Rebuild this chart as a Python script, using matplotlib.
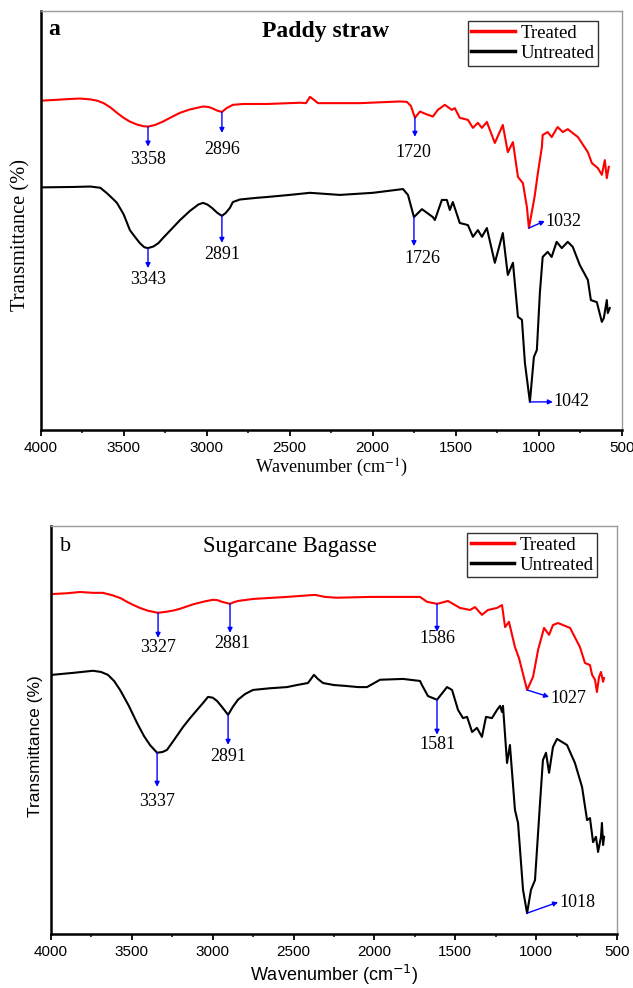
import numpy as np
import matplotlib
matplotlib.use('Agg')
import matplotlib.pyplot as plt
from matplotlib.ticker import MultipleLocator

plt.rcParams['font.family'] = ['Liberation Sans', 'DejaVu Sans']

# ---- panel a : paddy straw ----
wn_a_tr = [3992, 3900, 3823, 3763, 3700, 3660, 3620, 3580, 3540, 3500, 3462, 3420, 3380,
           3353, 3310, 3263, 3210, 3160, 3100, 3022, 2990, 2968, 2935, 2908, 2880, 2842,
           2780, 2637, 2438, 2402, 2378, 2354, 2330, 2077, 1836, 1794, 1770, 1746, 1716,
           1680, 1638, 1608, 1566, 1524, 1506, 1476, 1427, 1397, 1367, 1343, 1313, 1265,
           1217, 1187, 1156, 1126, 1096, 1072, 1060, 1026, 1006, 982, 977, 947, 923, 887,
           856, 826, 765, 705, 681, 645, 621, 603, 591, 579]
t_a_tr = [78.6, 78.8, 79.0, 79.1, 78.9, 78.6, 78.0, 77.0, 75.7, 74.5, 73.6, 72.9, 72.5,
          72.4, 72.8, 73.6, 74.7, 75.7, 76.5, 77.2, 77.1, 76.8, 76.2, 75.9, 76.8, 77.6,
          77.8, 77.8, 78.1, 78.0, 79.5, 78.8, 78.0, 78.0, 78.4, 78.3, 77.3, 74.5, 76.0,
          75.4, 74.8, 76.4, 77.6, 76.4, 76.8, 74.5, 74.0, 72.1, 73.3, 72.1, 73.5, 68.5,
          72.8, 66.3, 68.7, 60.4, 58.9, 53.2, 48.2, 55.6, 61.3, 67.5, 70.4, 71.1, 69.9, 72.3,
          71.1, 71.8, 69.9, 66.3, 63.7, 62.5, 60.9, 64.4, 60.1, 62.8]

wn_a_un = [3992, 3800, 3700, 3640, 3600, 3560, 3540, 3500, 3462, 3430, 3402, 3375, 3353,
           3320, 3290, 3263, 3210, 3160, 3100, 3050, 3022, 2995, 2968, 2935, 2908, 2885,
           2860, 2842, 2800, 2700, 2637, 2500, 2378, 2198, 1999, 1818, 1788, 1752, 1704,
           1638, 1626, 1584, 1554, 1536, 1518, 1476, 1427, 1397, 1367, 1343, 1313, 1265,
           1217, 1187, 1156, 1126, 1102, 1084, 1054, 1030, 1012, 994, 977, 947, 923, 893,
           862, 826, 796, 754, 705, 687, 651, 621, 609, 591, 585, 573]
t_a_un = [57.9, 58.0, 58.1, 57.8, 56.5, 55.0, 54.2, 51.5, 47.7, 46.0, 44.6, 43.6, 43.4,
          43.8, 44.6, 45.8, 48.0, 50.1, 52.3, 53.8, 54.2, 53.8, 53.0, 51.8, 51.1, 51.8,
          53.0, 54.4, 55.0, 55.4, 55.6, 56.1, 56.6, 56.1, 56.6, 57.5, 56.1, 50.8, 52.7,
          50.8, 50.1, 54.9, 54.9, 52.5, 54.4, 49.4, 48.9, 46.1, 47.7, 46.1, 48.2, 39.9,
          47.0, 37.0, 39.9, 27.0, 26.3, 16.0, 6.7, 17.4, 19.1, 32.7, 41.3, 42.5, 41.3, 44.9,
          43.4, 44.9, 43.7, 39.4, 35.8, 31.0, 30.5, 25.8, 26.7, 31.0, 27.9, 29.1]

lab_a_tr = ['3358', '2896', '1720', '1032']
pos_a_tr = [3353, 2908, 1746, 1060]
lab_a_un = ['3343', '2891', '1726', '1042']
pos_a_un = [3353, 2908, 1752, 1054]

# ---- panel b : sugarcane bagasse ----
wn_b_tr = [3994, 3900, 3821, 3740, 3680, 3620, 3570, 3530, 3490, 3450, 3400, 3338, 3280,
           3240, 3202, 3120, 3050, 2998, 2970, 2943, 2893, 2870, 2844, 2751, 2541, 2367,
           2306, 2231, 2027, 1718, 1675, 1613, 1545, 1471, 1409, 1378, 1335, 1298, 1242,
           1211, 1192, 1168, 1131, 1106, 1056, 1019, 988, 951, 933, 920, 896, 865, 790,
           729, 698, 667, 654, 636, 624, 611, 599, 586, 580]
t_b_tr = [83.3, 83.5, 83.8, 83.6, 83.6, 83.0, 82.3, 81.4, 80.6, 79.9, 79.2, 78.7, 79.0,
          79.3, 79.7, 80.8, 81.5, 81.9, 81.8, 81.4, 80.9, 81.3, 81.6, 82.1, 82.6, 83.1,
          82.6, 82.4, 82.6, 82.6, 81.4, 80.9, 81.6, 79.9, 79.4, 80.1, 78.2, 79.4, 79.9,
          80.6, 75.2, 76.5, 70.3, 67.6, 59.8, 63.0, 69.6, 75.0, 74.0, 73.3, 75.7, 76.2, 75.0,
          70.3, 66.4, 65.9, 63.5, 62.3, 59.3, 63.0, 64.2, 61.8, 62.7]

wn_b_un = [3994, 3860, 3740, 3690, 3648, 3610, 3573, 3520, 3468, 3425, 3388, 3344, 3310,
           3283, 3240, 3184, 3140, 3097, 3060, 3029, 3000, 2973, 2940, 2905, 2875, 2844,
           2800, 2751, 2650, 2541, 2480, 2411, 2374, 2350, 2318, 2250, 2182, 2100, 2046,
           1965, 1823, 1718, 1706, 1669, 1613, 1551, 1520, 1483, 1452, 1427, 1396, 1366,
           1335, 1310, 1273, 1242, 1223, 1211, 1205, 1180, 1162, 1131, 1112, 1081, 1056,
           1032, 1007, 976, 958, 939, 920, 896, 871, 809, 760, 716, 685, 667, 648, 630,
           617, 599, 593, 586, 580]
t_b_un = [63.5, 64.0, 64.5, 64.2, 63.5, 62.0, 59.8, 56.0, 51.7, 48.5, 46.3, 44.4, 44.6,
          45.1, 47.5, 50.7, 52.9, 54.9, 56.6, 58.1, 57.9, 57.1, 55.5, 53.7, 55.7, 57.4,
          58.8, 59.8, 60.2, 60.5, 61.0, 61.5, 63.5, 62.5, 61.5, 61.0, 60.8, 60.5, 60.5,
          62.3, 62.5, 62.0, 61.0, 58.3, 57.4, 60.5, 59.8, 54.9, 52.9, 53.2, 49.5, 50.5,
          48.3, 53.2, 52.9, 54.9, 55.9, 54.4, 55.9, 41.9, 46.3, 30.4, 27.2, 10.8, 5.1,
          10.8, 13.2, 32.1, 42.6, 44.4, 39.5, 45.8, 47.8, 46.3, 41.9, 36.0, 27.9, 28.4, 22.5,
          23.8, 20.1, 23.8, 27.2, 21.8, 23.8]

lab_b_tr = ['3327', '2881', '1586', '1027']
pos_b_tr = [3338, 2893, 1613, 1056]
lab_b_un = ['3337', '2891', '1581', '1018']
pos_b_un = [3344, 2905, 1613, 1056]

SERIF = ['Liberation Serif', 'DejaVu Serif']
SANS = ['Liberation Sans', 'DejaVu Sans']

fig = plt.figure(figsize=(6.33, 9.88), dpi=100)
ax1 = fig.add_axes([0.064, 0.5648, 0.9185, 0.4241])
ax2 = fig.add_axes([0.0806, 0.0547, 0.8941, 0.4130])


def style_axes(ax):
    ax.set_xlim(4000, 500)
    ax.set_ylim(0, 100)
    ax.set_yticks([])
    ax.xaxis.set_major_locator(MultipleLocator(500))
    ax.xaxis.set_minor_locator(MultipleLocator(250))
    ax.tick_params(axis='x', which='major', direction='out', length=4, width=1.3,
                   labelsize=11, pad=4)
    ax.tick_params(axis='x', which='minor', direction='out', length=2.5, width=1.1)
    for s in ['top', 'right']:
        ax.spines[s].set_color('#9a9a9a')
        ax.spines[s].set_linewidth(1.0)
    for s in ['left', 'bottom']:
        ax.spines[s].set_color('black')
        ax.spines[s].set_linewidth(1.8)


def peak_marks(ax, wn, t, labels, pos, offs):
    x_inc = np.array(wn)[::-1]
    y_inc = np.array(t)[::-1]
    for lab, p, (adx, ady, tdx, tdy, ha) in zip(labels, pos, offs):
        yv = np.interp(p, x_inc, y_inc)
        ax.annotate('', xy=(p, yv), xytext=(adx, ady), textcoords='offset pixels',
                    arrowprops=dict(arrowstyle='<|-', color='blue', lw=1.0,
                                    shrinkA=0, shrinkB=0, mutation_scale=7))
        ax.annotate(lab, xy=(p, yv), xytext=(tdx, tdy), textcoords='offset pixels',
                    ha=ha, va='center', fontsize=13, family=SERIF)


# panel a
style_axes(ax1)
ax1.plot(wn_a_tr, t_a_tr, color='red', lw=1.5, label='Treated')
ax1.plot(wn_a_un, t_a_un, color='black', lw=1.5, label='Untreated')
peak_marks(ax1, wn_a_tr, t_a_tr, lab_a_tr, pos_a_tr,
           [(0, -20, 0, -33, 'center'), (0, -21, 0, -38, 'center'),
            (0, -19, -2, -35, 'center'), (16, 7, 17, 7, 'left')])
peak_marks(ax1, wn_a_un, t_a_un, lab_a_un, pos_a_un,
           [(0, -20, 0, -31, 'center'), (0, -27, 0, -39, 'center'),
            (0, -29, 8, -41, 'center'), (23, 0, 24, 0, 'left')])
ax1.text(0.013, 0.955, 'a', transform=ax1.transAxes, fontsize=17, fontweight='bold',
         family=SERIF, va='center', ha='left')
ax1.text(0.491, 0.95, 'Paddy straw', transform=ax1.transAxes, fontsize=17,
         fontweight='bold', family=SERIF, va='center', ha='center')
ax1.set_xlabel(r'Wavenumber (cm$^{-1}$)', fontsize=13, family=SERIF,
               math_fontfamily='stix', labelpad=1)
ax1.set_ylabel('Transmittance (%)', fontsize=14.8, family=SERIF)
ax1.yaxis.set_label_coords(-0.017, 0.465)
leg1 = ax1.legend(loc='upper right', bbox_to_anchor=(0.9587, 0.976), frameon=True,
                  fancybox=False, edgecolor='#333333', framealpha=1,
                  prop={'family': SERIF, 'size': 13.5}, handlelength=2.3,
                  borderpad=0.2, labelspacing=0.15, handletextpad=0.3, borderaxespad=0)
leg1.get_frame().set_linewidth(1.0)
for ln in leg1.get_lines():
    ln.set_linewidth(2.5)

# panel b
style_axes(ax2)
ax2.plot(wn_b_tr, t_b_tr, color='red', lw=1.5, label='Treated')
ax2.plot(wn_b_un, t_b_un, color='black', lw=1.5, label='Untreated')
peak_marks(ax2, wn_b_tr, t_b_tr, lab_b_tr, pos_b_tr,
           [(0, -25, 0, -35, 'center'), (0, -29, 2, -40, 'center'),
            (0, -28, 0, -35, 'center'), (22, -7, 23, -9, 'left')])
peak_marks(ax2, wn_b_un, t_b_un, lab_b_un, pos_b_un,
           [(0, -34, 0, -49, 'center'), (0, -30, 0, -42, 'center'),
            (0, -35, 0, -45, 'center'), (31, 11, 32, 11, 'left')])
ax2.text(0.016, 0.9485, 'b', transform=ax2.transAxes, fontsize=16,
         family=SERIF, va='center', ha='left')
ax2.text(0.422, 0.9485, 'Sugarcane Bagasse', transform=ax2.transAxes, fontsize=16.3,
         family=SERIF, va='center', ha='center')
ax2.set_xlabel(r'Wavenumber (cm$^{-1}$)', fontsize=13, family=SANS,
               math_fontfamily='dejavusans', labelpad=3)
ax2.set_ylabel('Transmittance (%)', fontsize=12.5, family=SANS)
ax2.yaxis.set_label_coords(-0.014, 0.461)
leg2 = ax2.legend(loc='upper right', bbox_to_anchor=(0.9647, 0.983), frameon=True,
                  fancybox=False, edgecolor='#333333', framealpha=1,
                  prop={'family': SERIF, 'size': 13.5}, handlelength=2.3,
                  borderpad=0.2, labelspacing=0.15, handletextpad=0.3, borderaxespad=0)
leg2.get_frame().set_linewidth(1.0)
for ln in leg2.get_lines():
    ln.set_linewidth(2.5)

fig.savefig('out.png', dpi=100)
